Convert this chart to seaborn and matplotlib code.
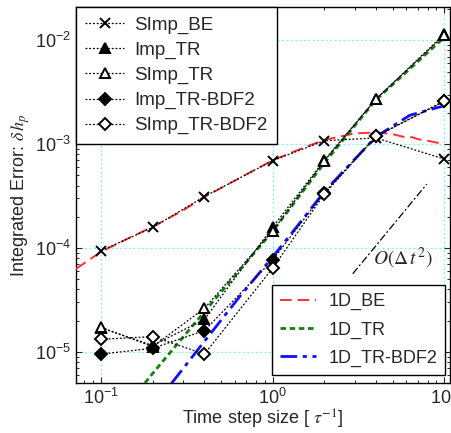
import numpy as np
import pandas as pd
import matplotlib
matplotlib.use("Agg")
import matplotlib.pyplot as plt
import seaborn as sns

# Time step sizes of the 2D runs
dt = [0.1, 0.2, 0.4, 1.0, 2.0, 4.0, 10.0]

# Integrated error of each 2D scheme
simp_be = [9.4e-5, 1.58e-4, 3.13e-4, 6.95e-4, 1.08e-3, 1.15e-3, 7.2e-4]
imp_tr = [1.70e-5, 1.15e-5, 2.05e-5, 1.59e-4, 7.0e-4, 2.72e-3, 1.15e-2]
simp_tr = [1.72e-5, 1.12e-5, 2.62e-5, 1.46e-4, 6.9e-4, 2.72e-3, 1.12e-2]
imp_bdf2 = [9.5e-6, 1.08e-5, 1.60e-5, 7.66e-5, 3.41e-4, 1.19e-3, 2.62e-3]
simp_bdf2 = [1.32e-5, 1.40e-5, 9.5e-6, 6.4e-5, 3.30e-4, 1.19e-3, 2.58e-3]

# 1D reference solutions
be1d_x = [0.0714, 0.1, 0.15, 0.2, 0.3, 0.4, 0.7, 1.0, 1.5, 2.0, 3.0, 4.0, 5.0, 6.0, 6.5, 7.0, 8.0, 10.0]
be1d_y = [6.3e-5, 9.2e-5, 1.28e-4, 1.6e-4, 2.3e-4, 3.1e-4, 5.1e-4, 7.0e-4, 9.2e-4, 1.1e-3,
          1.27e-3, 1.3e-3, 1.25e-3, 1.16e-3, 1.17e-3, 1.12e-3, 1.08e-3, 1.0e-3]
tr1d_x = [0.18, 0.2, 0.4, 1.0, 2.0, 4.0, 10.0]
tr1d_y = [5.0e-6, 6.2e-6, 2.43e-5, 1.45e-4, 6.6e-4, 2.68e-3, 1.07e-2]
bdf1d_x = [0.257, 0.4, 0.642, 1.0, 1.5, 2.0, 4.0, 6.3, 10.0]
bdf1d_y = [4.95e-6, 1.26e-5, 3.4e-5, 8.2e-5, 1.9e-4, 3.5e-4, 1.18e-3, 1.9e-3, 2.35e-3]

# Second-order guide line
guide_x = [2.93, 7.9]
guide_y = [5.65e-5, 4.12e-4]

sns.set_style("ticks")
plt.rcParams["font.family"] = ["Liberation Sans", "DejaVu Sans"]
plt.rcParams["mathtext.fontset"] = "stix"
plt.rcParams["font.size"] = 13

fig = plt.figure(figsize=(4.51, 4.33), dpi=100)
ax = fig.add_axes([76 / 451, 1 - 383 / 433, 374 / 451, 376 / 433])
ax.set_xscale("log")
ax.set_yscale("log")

dot = (0, (1.5, 1.5))
ref_lines = [
    ("1D_BE", be1d_x, be1d_y, "#ff3030", (0, (6, 3)), 1.4),
    ("1D_TR", tr1d_x, tr1d_y, "#108010", (0, (2, 1.3)), 2.0),
    ("1D_TR-BDF2", bdf1d_x, bdf1d_y, "#1010ff", (0, (6, 2, 1.5, 2)), 2.0),
]
ref_handles = []
for name, xs, ys, c, ls, lw in ref_lines:
    df = pd.DataFrame({"dt": xs, "err": ys})
    sns.lineplot(data=df, x="dt", y="err", ax=ax, color=c, linestyle=ls,
                 linewidth=lw, sort=False, estimator=None, zorder=3)
    ref_handles.append(ax.lines[-1])

schemes = [
    ("SImp_BE", simp_be, "x", "black", 7),
    ("Imp_TR", imp_tr, "^", "black", 7.5),
    ("SImp_TR", simp_tr, "^", "white", 7.5),
    ("Imp_TR-BDF2", imp_bdf2, "D", "black", 6),
    ("SImp_TR-BDF2", simp_bdf2, "D", "white", 6),
]
scheme_handles = []
for name, ys, mk, fc, ms in schemes:
    df = pd.DataFrame({"dt": dt, "err": ys})
    sns.lineplot(data=df, x="dt", y="err", ax=ax, color="black", linestyle=dot,
                 linewidth=0.9, marker=mk, markersize=ms, markerfacecolor=fc,
                 markeredgecolor="black", markeredgewidth=1.4,
                 sort=False, estimator=None, zorder=4)
    scheme_handles.append(ax.lines[-1])

sns.lineplot(x=guide_x, y=guide_y, ax=ax, color="black", linewidth=0.9,
             linestyle=(0, (6, 2, 1.5, 2)), estimator=None, sort=False)
ax.text(3.83, 7.9e-5, r"$O(\Delta\, t^2)$", fontsize=14, ha="left", va="center")

ax.set_xlim(0.0714, 10.8)
ax.set_ylim(5e-6, 2.1e-2)
ax.grid(True, which="major", color="#80f0f0", linestyle=(0, (1.5, 2)), linewidth=0.9)
ax.tick_params(which="both", direction="in", top=True, right=True, labelsize=13)
ax.tick_params(which="major", length=4, width=0.8)
ax.tick_params(which="minor", length=2.5, width=0.7)
for s in ax.spines.values():
    s.set_color("black")
    s.set_linewidth(1.0)

ax.set_xlabel(r"Time step size [ $\tau^{-1}$]", fontsize=13, labelpad=0)
ax.set_ylabel(r"Integrated Error: $\delta\, h_p$", fontsize=13, labelpad=2)

leg1 = ax.legend(scheme_handles, [s[0] for s in schemes], loc="upper left",
                 borderaxespad=0, fancybox=False, framealpha=1, edgecolor="black",
                 handlelength=2.05, handletextpad=0.55, labelspacing=0.42,
                 borderpad=0.5, fontsize=13.5)
leg1.get_frame().set_linewidth(1.0)
leg1.set_zorder(10)
ax.add_artist(leg1)
leg2 = ax.legend(ref_handles, [r[0] for r in ref_lines], loc="lower right",
                 bbox_to_anchor=(0.987, 0.021), borderaxespad=0, fancybox=False,
                 framealpha=1, edgecolor="black", handlelength=2.0,
                 handletextpad=0.65, labelspacing=0.62, borderpad=0.45, fontsize=13)
leg2.get_frame().set_linewidth(1.0)
leg2.set_zorder(10)

fig.savefig("out.png", dpi=100)
